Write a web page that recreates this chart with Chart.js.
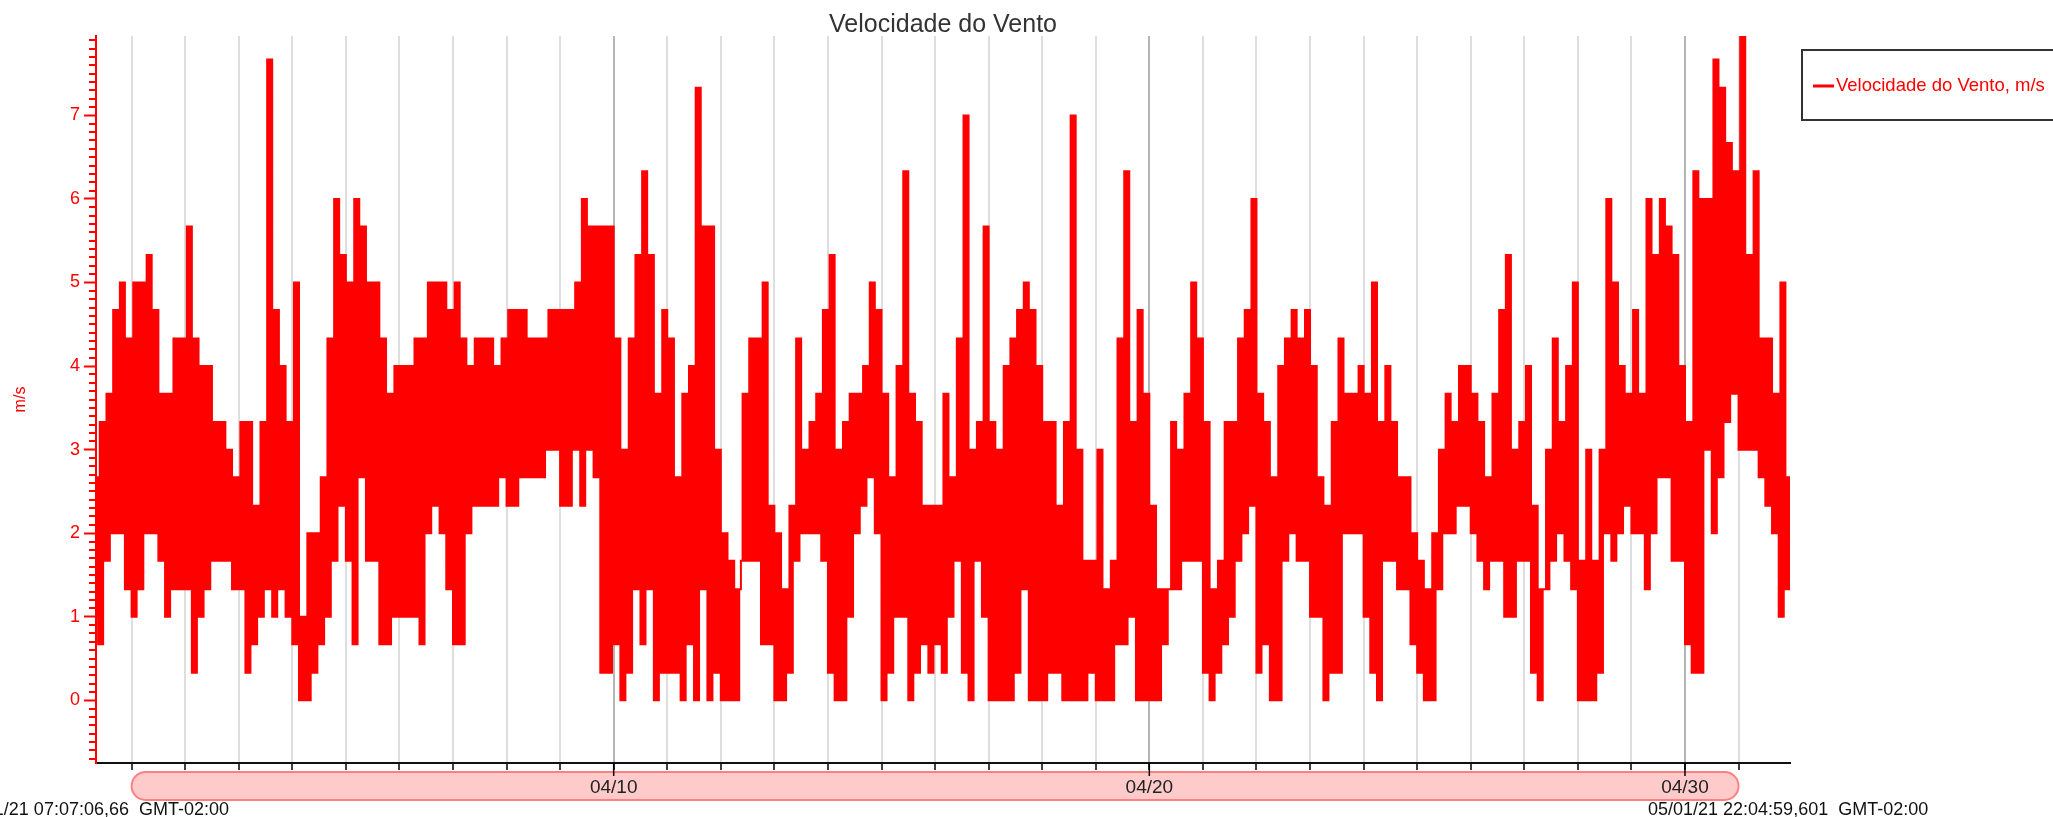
<!DOCTYPE html>
<html><head><meta charset="utf-8">
<script src="https://cdn.jsdelivr.net/npm/chart.js@4.4.1/dist/chart.umd.min.js"></script>
<style>html,body{margin:0;padding:0;background:#fff;overflow:hidden}canvas{display:block}</style>
</head><body>
<canvas id="c" width="2053" height="817"></canvas>
<script>
// ---- data (days relative to 04/01 00:00 local time; 3-hour blocks) ----
const blockStartDay = -0.75;   // 03/31 06:00
const blockHours = 3;
// minimum and maximum wind speed (m/s) read in each 3-hour block
const lowValues = [
1.0,0.67,1.67,2.0,2.0,1.33,1.0,1.33,2.0,2.0,1.67,1.0,1.33,1.33,1.33,0.33,1.0,1.33,1.67,1.67,
1.67,1.33,1.33,0.33,0.67,1.0,1.33,1.0,1.33,1.0,0.67,0,0,0.33,0.67,1.0,1.67,2.33,1.67,0.67,
2.67,1.67,1.67,0.67,0.67,1.0,1.0,1.0,1.0,0.67,2.0,2.33,2.0,1.33,0.67,0.67,2.0,2.33,2.33,2.33,
2.33,2.67,2.33,2.33,2.67,2.67,2.67,2.67,3.0,3.0,2.33,2.33,3.0,2.33,3.0,2.67,0.33,0.33,0.67,0,
0.33,1.33,0.67,1.33,0,0.33,0.33,0.33,0,0.67,0,1.33,0,0.33,0,0,0,1.67,1.67,1.67,
0.67,0.67,0,0,0.33,1.67,2.0,2.0,2.0,1.67,0.33,0,0,1.0,2.0,2.33,2.67,2.0,0,0.33,
1.0,1.0,0,0.33,0.67,0.33,0.67,0.33,1.0,1.67,0.33,0,1.67,1.0,0,0,0,0,0.33,1.33,
0,0,0,0.33,0.33,0,0,0,0,0.33,0,0,0,0.67,0.67,1.0,0,0,0,0,
0.67,1.33,1.33,1.67,1.67,1.67,0.33,0,0.33,0.67,1.0,1.67,2.0,2.33,0.33,0.67,0,0,1.67,2.0,
1.67,1.67,1.0,1.0,0,0.33,0.33,2.0,2.0,2.0,1.0,0.33,0,1.67,1.67,1.33,1.33,0.67,0.33,0,
0,1.33,2.0,2.0,2.33,2.33,2.0,1.67,1.33,1.67,1.67,1.0,1.0,1.67,1.67,0.33,0,1.33,1.67,2.0,
1.67,1.33,0,0,0,0.33,2.0,1.67,2.0,2.33,2.0,2.0,1.33,2.0,2.67,2.67,1.67,1.67,0.67,0.33,
0.33,3.0,2.0,2.67,3.33,3.67,3.0,3.0,3.0,2.67,2.33,2.0,1.0,1.33
];
const highValues = [
2.67,3.33,3.67,4.67,5.0,4.33,5.0,5.0,5.33,4.67,3.67,3.67,4.33,4.33,5.67,4.33,4.0,4.0,3.33,3.33,
3.0,2.67,3.33,3.33,2.33,3.33,7.67,4.67,4.0,3.33,5.0,1.0,2.0,2.0,2.67,4.33,6.0,5.33,5.0,6.0,
5.67,5.0,5.0,4.33,3.67,4.0,4.0,4.0,4.33,4.33,5.0,5.0,5.0,4.67,5.0,4.33,4.0,4.33,4.33,4.33,
4.0,4.33,4.67,4.67,4.67,4.33,4.33,4.33,4.67,4.67,4.67,4.67,5.0,6.0,5.67,5.67,5.67,5.67,4.33,3.0,
4.33,5.33,6.33,5.33,3.67,4.67,4.33,2.67,3.67,4.0,7.33,5.67,5.67,3.0,2.0,1.67,1.33,3.67,4.33,4.33,
5.0,2.33,2.0,1.33,2.33,4.33,3.0,3.33,3.67,4.67,5.33,3.0,3.33,3.67,3.67,4.0,5.0,4.67,3.67,2.67,
4.0,6.33,3.67,3.33,2.33,2.33,2.33,3.67,2.67,4.33,7.0,3.0,3.33,5.67,3.33,3.0,4.0,4.33,4.67,5.0,
4.67,4.0,3.33,3.33,2.33,3.33,7.0,3.0,1.67,1.67,3.0,1.33,1.67,4.33,6.33,3.33,4.67,3.67,2.33,1.33,
1.33,3.33,3.0,3.67,5.0,4.33,3.33,1.33,1.67,3.33,3.33,4.33,4.67,6.0,3.67,3.33,2.67,4.0,4.33,4.67,
4.33,4.67,4.0,2.67,2.33,3.33,4.33,3.67,3.67,4.0,3.67,5.0,3.33,4.0,3.33,2.67,2.67,2.0,1.67,1.33,
2.0,3.0,3.67,3.33,4.0,4.0,3.67,3.33,2.67,3.67,4.67,5.33,3.0,3.33,4.0,2.33,1.33,3.0,4.33,3.33,
4.0,5.0,1.67,3.0,1.67,3.0,6.0,5.0,4.0,3.67,4.67,3.67,6.0,5.33,6.0,5.67,5.33,4.0,3.33,6.33,
6.0,6.0,7.67,7.33,6.67,6.33,8.0,5.33,6.33,4.33,4.33,3.67,5.0,2.67
];
const yTickValues = [0,1,2,3,4,5,6,7];
const majorTickDays = [9,19,29];
const majorTickLabels = ['04/10','04/20','04/30'];
const startLabel = '03/31/21 07:07:06,66  GMT-02:00';
const endLabel = '05/01/21 22:04:59,601  GMT-02:00';
const chartTitle = 'Velocidade do Vento';
const seriesLabel = 'Velocidade do Vento, m/s';
const yAxisTitle = 'm/s';
const xMin = -0.6645, xMax = 30.9605;
const yMin = -0.75, yMax = 7.95;
const scrollStartDay = 0, scrollEndDay = 30;

// ---- build dataset: each block's readings alternate low/high inside the block ----
const blockDay = blockHours / 24;
const points = [];
for (let k = 0; k < lowValues.length; k++) {
  const t0 = blockStartDay + k * blockDay;
  points.push({x: t0 + blockDay * 0.125, y: lowValues[k]});
  points.push({x: t0 + blockDay * 0.375, y: highValues[k]});
  points.push({x: t0 + blockDay * 0.625, y: lowValues[k]});
  points.push({x: t0 + blockDay * 0.875, y: highValues[k]});
}

const FONT = "'Liberation Sans', Arial, Helvetica, sans-serif";
Chart.defaults.font.family = FONT;

const decor = {
  id: 'decor',
  beforeDraw(chart) {
    const c = chart.ctx, xs = chart.scales.x;
    c.save();
    c.fillStyle = '#fff';
    c.fillRect(0, 0, chart.width, chart.height);
    const x0 = xs.getPixelForValue(scrollStartDay), x1 = xs.getPixelForValue(scrollEndDay);
    const y0 = 772, y1 = 800, r = 14;
    c.beginPath();
    c.moveTo(x0 + r, y0); c.lineTo(x1 - r, y0);
    c.arc(x1 - r, y0 + r, r, -Math.PI / 2, Math.PI / 2);
    c.lineTo(x0 + r, y1);
    c.arc(x0 + r, y0 + r, r, Math.PI / 2, Math.PI * 1.5);
    c.closePath();
    c.fillStyle = '#ffcaca';
    c.fill();
    c.lineWidth = 2;
    c.strokeStyle = '#ff8080';
    c.stroke();
    c.restore();
  },
  afterDraw(chart) {
    const c = chart.ctx, xs = chart.scales.x, ys = chart.scales.y, a = chart.chartArea;
    c.save();
    c.strokeStyle = '#ff0000';
    c.lineWidth = 2;
    for (let i = -7; i <= 79; i++) {
      if (i % 10 === 0) continue;
      const y = Math.round(ys.getPixelForValue(i / 10));
      c.beginPath(); c.moveTo(a.left - 7, y); c.lineTo(a.left, y); c.stroke();
    }
    c.strokeStyle = '#000';
    c.lineWidth = 1.5;
    majorTickDays.forEach(d => {
      const x = xs.getPixelForValue(d);
      c.beginPath(); c.moveTo(x, a.bottom); c.lineTo(x, a.bottom + 13); c.stroke();
    });
    c.fillStyle = '#333';
    c.font = '25px ' + FONT;
    c.textAlign = 'center';
    c.textBaseline = 'alphabetic';
    c.fillText(chartTitle, (a.left + a.right) / 2, 32);
    c.save();
    c.translate(21, (a.top + a.bottom) / 2);
    c.rotate(-Math.PI / 2);
    c.fillStyle = '#ff0000';
    c.font = '16px ' + FONT;
    c.textAlign = 'center';
    c.textBaseline = 'middle';
    c.fillText(yAxisTitle, 0, 0);
    c.restore();
    c.strokeStyle = '#333';
    c.lineWidth = 2;
    c.strokeRect(1802, 50, 300, 70);
    c.strokeStyle = '#ff0000';
    c.lineWidth = 3;
    c.beginPath(); c.moveTo(1813, 86); c.lineTo(1834, 86); c.stroke();
    c.fillStyle = '#ff0000';
    c.font = '18.5px ' + FONT;
    c.textAlign = 'left';
    c.textBaseline = 'middle';
    c.fillText(seriesLabel, 1836, 86);
    c.fillStyle = '#111';
    c.font = '18px ' + FONT;
    c.textBaseline = 'alphabetic';
    c.textAlign = 'right';
    c.fillText(startLabel, 229, 815);
    c.textAlign = 'left';
    c.fillText(endLabel, 1648, 815);
    c.restore();
  }
};

new Chart(document.getElementById('c').getContext('2d'), {
  type: 'line',
  data: {datasets: [{
    label: seriesLabel, data: points,
    borderColor: '#ff0000', borderWidth: 2, pointRadius: 0, tension: 0, fill: false,
    stepped: 'middle'
  }]},
  options: {
    responsive: false, animation: false, devicePixelRatio: 1,
    layout: {padding: {left: 0, right: 263, top: 36, bottom: 0}},
    plugins: {legend: {display: false}, title: {display: false}, tooltip: {enabled: false}},
    scales: {
      x: {
        type: 'linear', min: xMin, max: xMax,
        afterFit(s) { s.height = 54; },
        ticks: {
          stepSize: 1, includeBounds: false, autoSkip: false, maxRotation: 0, padding: 6,
          color: '#222', font: {size: 19},
          callback: v => { const i = majorTickDays.indexOf(Math.round(v)); return (i >= 0 && Math.abs(v - Math.round(v)) < 1e-6) ? majorTickLabels[i] : ''; }
        },
        grid: {
          color: ctx => (ctx.tick && majorTickDays.includes(Math.round(ctx.tick.value))) ? '#b5b5b5' : '#dedede',
          lineWidth: 2, tickLength: 7, tickColor: '#000', tickWidth: 1.5
        },
        border: {color: '#111', width: 2}
      },
      y: {
        min: yMin, max: yMax,
        afterFit(s) { s.width = 96; },
        afterBuildTicks(s) { s.ticks = yTickValues.map(v => ({value: v})); },
        ticks: {color: '#ff0000', font: {size: 18}, padding: 4, callback: v => String(v)},
        grid: {drawOnChartArea: false, tickLength: 12, tickColor: '#ff0000', tickWidth: 2},
        border: {color: '#ff0000', width: 2}
      }
    }
  },
  plugins: [decor]
});
</script>
</body></html>
